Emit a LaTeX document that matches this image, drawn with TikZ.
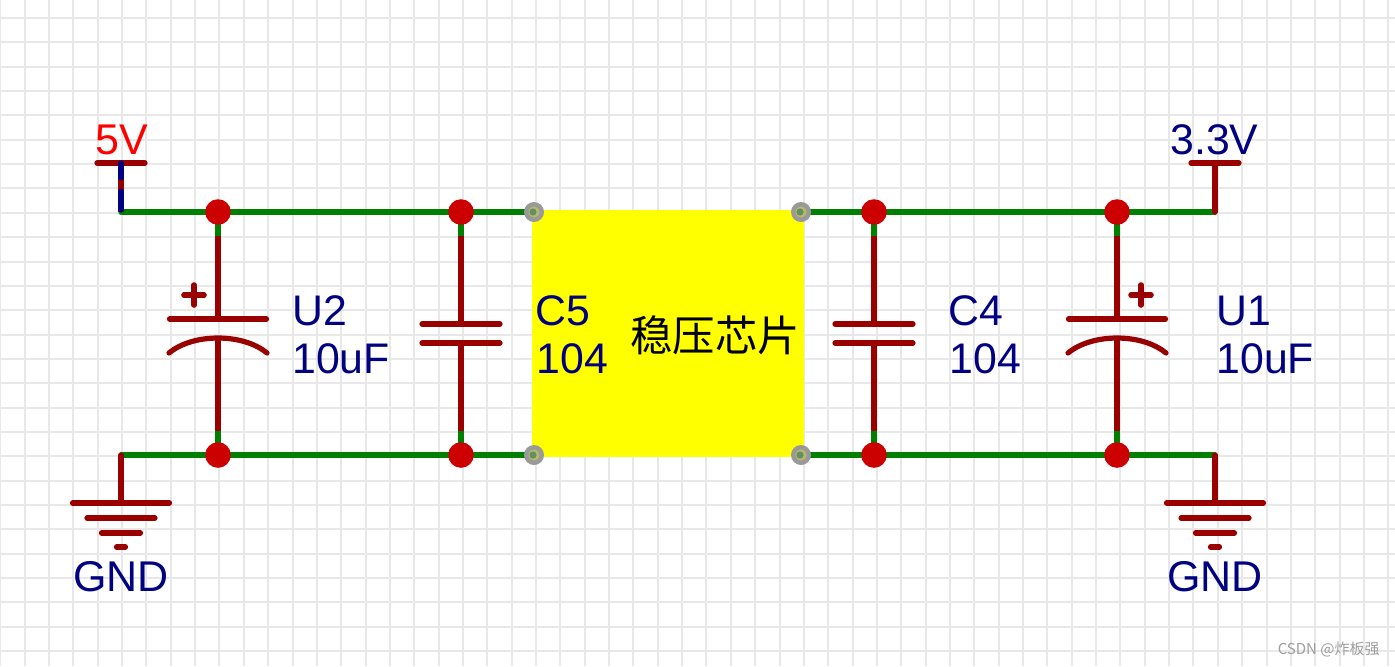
\documentclass[tikz,border=0pt]{standalone}
\usepackage{fontspec}
\setmainfont{Liberation Sans}
\newfontfamily\cjk{Noto Sans CJK SC}
\usetikzlibrary{backgrounds}
\definecolor{wirered}{RGB}{153,0,0}
\definecolor{wiregreen}{RGB}{0,128,0}
\definecolor{dotred}{RGB}{204,0,0}
\definecolor{gridgray}{RGB}{232,232,232}
\definecolor{pingray}{RGB}{153,153,153}
\definecolor{chipyellow}{RGB}{255,255,0}
\definecolor{navy}{RGB}{0,0,128}
\tikzset{
  wire/.style={wiregreen,line width=2.6pt,line cap=round},
  part/.style={wirered,line width=2.6pt,line cap=round},
  junction/.style={circle,fill=dotred,inner sep=0pt,minimum size=12.8pt},
  pin/.style={circle,fill=pingray,inner sep=0pt,minimum size=10pt},
  partlabel/.style={anchor=base west,inner sep=0pt,text=navy,font=\fontsize{21.4}{24}\selectfont},
  gndlabel/.style={anchor=base,inner sep=0pt,text=navy,font=\fontsize{21.5}{24}\selectfont},
}
\begin{document}
\begin{tikzpicture}[x=0.5pt,y=-0.5pt]
    \useasboundingbox (0,0) rectangle (1395,666);
    % junctions and pins
    \node[junction] (t1) at (218,212) {};
    \node[junction] (t2) at (461,212) {};
    \node[junction] (t3) at (874,212) {};
    \node[junction] (t4) at (1117,212) {};
    \node[junction] (b1) at (218,455) {};
    \node[junction] (b2) at (461,455) {};
    \node[junction] (b3) at (874,455) {};
    \node[junction] (b4) at (1117,455) {};
    \node[pin] (p1) at (534,212) {};
    \node[pin] (p2) at (801,212) {};
    \node[pin] (p3) at (534,455) {};
    \node[pin] (p4) at (801,455) {};
    \foreach \n in {1,2,3,4} {
        \fill[chipyellow!30!pingray] (p\n) circle (2.8pt);
        \fill[wiregreen!35!pingray] ([xshift=-0.5pt]p\n.center) circle (1.8pt);
    }
    % corners of the rails
    \coordinate (tl) at (121,212);
    \coordinate (tr) at (1215,212);
    \coordinate (bl) at (121,455);
    \coordinate (br) at (1215,455);
    \begin{pgfonlayer}{background}
    \fill[white] (0,0) rectangle (1395,666);
    % grid
    \foreach \k in {0,...,57} {
        \draw[gridgray,line width=1pt] ({0.3+24.35*\k},0) -- ({0.3+24.35*\k},666);
    }
    \foreach \k in {0,...,27} {
        \draw[gridgray,line width=1pt] (0,{18+24.35*\k}) -- (1395,{18+24.35*\k});
    }
    % chip
    \node[fill=chipyellow,inner sep=0pt,minimum width=136pt,minimum height=123.5pt,anchor=north west] (chip) at (532,210) {};
    % rails
    \draw[wire] (tl) -- (t1.center) -- (t2.center) -- (p1.center);
    \draw[wire] (p2.center) -- (t3.center) -- (t4.center) -- (tr);
    \draw[wire] (bl) -- (b1.center) -- (b2.center) -- (p3.center);
    \draw[wire] (p4.center) -- (b3.center) -- (b4.center) -- (br);
    % pin stubs
    \foreach \n/\x in {1/218,2/461,3/874,4/1117} {
        \coordinate (c\n t) at (\x,236);
        \coordinate (c\n b) at (\x,431);
        \draw[wire,line cap=butt] (t\n.center) -- (c\n t);
        \draw[wire,line cap=butt] (b\n.center) -- (c\n b);
    }
    \end{pgfonlayer}
    \node[font=\cjk\fontsize{21.2}{24}\selectfont,text=black,inner sep=0pt] (chiptext) at (715,335) {稳压芯片};
    % polar caps
    \foreach \n/\x/\p in {1/218/194,4/1117/1141} {
        \draw[part,line cap=butt] (c\n t) -- (\x,319);
        \draw[part] (\x-48.5,319) -- (\x+48.5,319);
        \draw[part] (\x-49,353) .. controls (\x-25,333) and (\x+25,333) .. (\x+49,353);
        \draw[part,line cap=butt] (\x,338) -- (c\n b);
        \draw[part,line width=2.8pt] (\p-10,295) -- (\p+10,295);
        \draw[part,line width=2.8pt] (\p,285) -- (\p,305);
    }
    % plain caps
    \foreach \n/\x in {2/461,3/874} {
        \draw[part,line cap=butt] (c\n t) -- (\x,324);
        \draw[part] (\x-39,324) -- (\x+39,324);
        \draw[part] (\x-39,343) -- (\x+39,343);
        \draw[part,line cap=butt] (\x,343) -- (c\n b);
    }
    % 5V
    \coordinate (v5) at (121,163);
    \draw[part] (97,163) -- (145,163);
    \draw[part,line cap=butt] (v5) -- (tl);
    \draw[navy,line width=2.6pt,line cap=round] (v5) -- (121,178);
    \draw[navy,line width=2.6pt,line cap=round] (121,191) -- (121,210);
    \node[anchor=base west,inner sep=0pt,text=red,font=\fontsize{21.5}{24}\selectfont] (l5v) at (95,154) {5V};
    % 3.3V
    \coordinate (v33) at (1215,163);
    \draw[part] (1191,163) -- (1239,163);
    \draw[part] (v33) -- (tr);
    \node[partlabel] (l33) at (1170,154) {3.3V};
    % GND
    \foreach \n/\x in {l/121,r/1215} {
        \coordinate (g\n) at (\x,503);
        \draw[part] (b\n) -- (g\n);
        \draw[part] (\x-48.5,503) -- (\x+48.5,503);
        \draw[part] (\x-34,518) -- (\x+34,518);
        \draw[part] (\x-19.5,533) -- (\x+19.5,533);
        \draw[part] (\x-4.5,547) -- (\x+4.5,547);
        \node[gndlabel] at (\x,591) {GND};
    }
    % labels
    \node[partlabel] (u2a) at (292,325) {U2};
    \node[partlabel] (u2b) at (292,373) {10uF};
    \node[partlabel] (c5a) at (535,325) {C5};
    \node[partlabel] (c5b) at (536,373) {104};
    \node[partlabel] (c4a) at (948,325) {C4};
    \node[partlabel] (c4b) at (949,373) {104};
    \node[partlabel] (u1a) at (1216,325) {U1};
    \node[partlabel] (u1b) at (1216,373) {10uF};
    % mark
    \node[anchor=base east,inner sep=0pt,text=black!38,font=\cjk\fontsize{7.5}{9}\selectfont] (mark) at (1380,654) {CSDN @炸板强};
\end{tikzpicture}
\end{document}
